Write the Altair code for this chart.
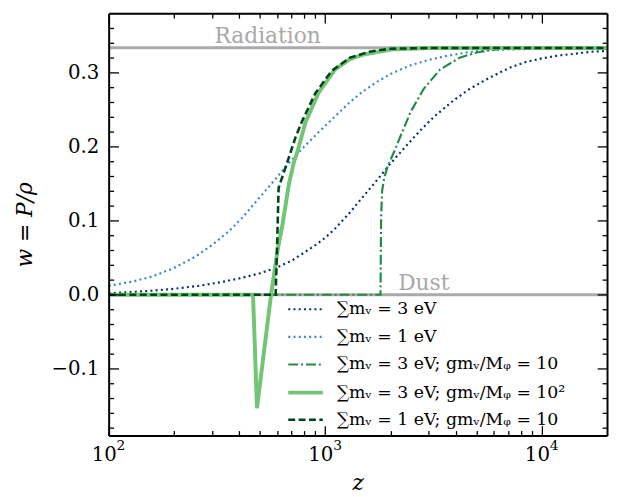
import altair as alt
import pandas as pd

FONT = "DejaVu Serif"

series_names = [
    "∑mᵥ = 3 eV",
    "∑mᵥ = 1 eV",
    "∑mᵥ = 3 eV; gmᵥ/Mᵩ = 10",
    "∑mᵥ = 3 eV; gmᵥ/Mᵩ = 10²",
    "∑mᵥ = 1 eV; gmᵥ/Mᵩ = 10",
]
colors = ["#08306b", "#3a87cb", "#238b45", "#74c476", "#00441b"]
dashes = [[2, 3.3], [2, 3.3], [10, 3, 2, 3], [1, 0], [7, 3.5]]
widths = [2.2, 2.2, 2.2, 4, 2.6]

# Sum m = 3 eV
z_a = [100, 150, 200, 260, 330, 400, 500, 600, 700, 800, 900, 1000, 1100, 1300, 1500,
       1750, 2000, 2400, 2750, 3200, 3900, 4600, 5500, 6500, 7200, 8400, 10000, 12000,
       14000, 17000, 20000]
w_a = [0.002, 0.005, 0.008, 0.012, 0.017, 0.022, 0.029, 0.037, 0.046, 0.057, 0.067, 0.077,
       0.088, 0.111, 0.133, 0.156, 0.177, 0.203, 0.222, 0.241, 0.262, 0.277, 0.290, 0.301,
       0.307, 0.314, 0.319, 0.323, 0.325, 0.328, 0.329]
# Sum m = 1 eV
z_b = [100, 130, 160, 200, 250, 300, 360, 420, 480, 550, 620, 700, 800, 900, 1000, 1150,
       1300, 1500, 1750, 2000, 2500, 3000, 3600, 4500, 5500, 7000, 10000, 14000, 20000]
w_b = [0.012, 0.018, 0.025, 0.036, 0.051, 0.067, 0.086, 0.106, 0.126, 0.146, 0.164, 0.182,
       0.200, 0.215, 0.228, 0.245, 0.260, 0.275, 0.288, 0.298, 0.310, 0.317, 0.322, 0.327,
       0.330, 0.331, 0.332, 0.333, 0.333]
# Sum m = 3 eV; g m/M = 10
z_c = [100, 1800, 1810, 1830, 1873, 1950, 2080, 2240, 2480, 2850, 3390, 4180, 5000, 5520,
       6500, 8000, 20000]
w_c = [0.0, 0.0, 0.10, 0.14, 0.158, 0.175, 0.193, 0.216, 0.247, 0.278, 0.304, 0.320, 0.327,
       0.329, 0.332, 0.333, 0.333]
# Sum m = 3 eV; g m/M = 100
z_d = [100, 464, 484, 562, 605, 636, 680, 718, 744, 811, 933, 1110, 1300, 1493, 2020, 3000,
       20000]
w_d = [0.0, 0.0, -0.153, 0.0, 0.063, 0.096, 0.150, 0.180, 0.193, 0.233, 0.273, 0.304, 0.318,
       0.324, 0.331, 0.333, 0.333]
# Sum m = 1 eV; g m/M = 10
z_e = [100, 590, 600, 609, 640, 670, 693, 730, 784, 900, 1070, 1300, 1600, 2000, 3000, 20000]
w_e = [0.0, 0.0, 0.07, 0.144, 0.163, 0.180, 0.193, 0.213, 0.235, 0.272, 0.302, 0.320, 0.328,
       0.332, 0.333, 0.333]

ref_levels = [0.0, 1 / 3]
ref_labels = ["Dust", "Radiation"]
ref_label_z = [2850, 542]
ref_label_w = [0.007, 0.340]

x_major = [100, 1000, 10000]
x_exponents = ["2", "3", "4"]
x_minor = [200, 300, 400, 500, 600, 700, 800, 900,
           2000, 3000, 4000, 5000, 6000, 7000, 8000, 9000]
y_major = [-0.1, 0.0, 0.1, 0.2, 0.3]
y_minor = [-0.18, -0.16, -0.14, -0.12, -0.08, -0.06, -0.04, -0.02,
           0.02, 0.04, 0.06, 0.08, 0.12, 0.14, 0.16, 0.18,
           0.22, 0.24, 0.26, 0.28, 0.32, 0.34, 0.36]
y_min, y_max = -0.19, 0.38

rows = []
for name, zs, ws in zip(series_names, [z_a, z_b, z_c, z_d, z_e], [w_a, w_b, w_c, w_d, w_e]):
    for z, w in zip(zs, ws):
        rows.append({"series": name, "z": z, "w": w})
df = pd.DataFrame(rows)

W, H = 505, 428
xscale = alt.Scale(type="log", domain=[100, 20000], nice=False)
yscale = alt.Scale(domain=[y_min, y_max], nice=False, zero=False)

color_scale = alt.Scale(type="ordinal", domain=series_names, range=colors)
dash_scale = alt.Scale(type="ordinal", domain=series_names, range=dashes)
width_scale = alt.Scale(type="ordinal", domain=series_names, range=widths)

legend = alt.Legend(
    title=None, orient="none", legendX=180, legendY=281,
    labelFont=FONT, labelFontSize=17.5, labelColor="black",
    symbolType="stroke", symbolSize=1225, labelOffset=12,
    rowPadding=-9, padding=0, labelLimit=400,
)

ref_rules = alt.Chart(pd.DataFrame({"w": ref_levels})).mark_rule(
    color="#aaaaaa", strokeWidth=3
).encode(y=alt.Y("w:Q", scale=yscale, axis=None))

ref_text = alt.Chart(
    pd.DataFrame({"label": ref_labels, "z": ref_label_z, "w": ref_label_w})
).mark_text(font=FONT, fontSize=22, color="#a8a8a8", baseline="alphabetic", align="center").encode(
    x=alt.X("z:Q", scale=xscale, axis=None),
    y=alt.Y("w:Q", scale=yscale, axis=None),
    text="label:N",
)

line_layers = []
for name in series_names:
    line_layers.append(
        alt.Chart(df[df.series == name]).mark_line(clip=True).encode(
            x=alt.X("z:Q", scale=xscale, axis=None),
            y=alt.Y("w:Q", scale=yscale, axis=None),
            color=alt.Color("series:N", scale=color_scale, legend=legend, sort=series_names),
            strokeDash=alt.StrokeDash("series:N", scale=dash_scale, legend=legend, sort=series_names),
            strokeWidth=alt.StrokeWidth("series:N", scale=width_scale, legend=legend, sort=series_names),
            order="z:Q",
        )
    )

# exponent of the x tick labels (10^n)
exp_text = alt.Chart(
    pd.DataFrame({"z": x_major, "w": [y_min] * 3, "e": x_exponents})
).mark_text(font=FONT, fontSize=14, color="black", baseline="alphabetic", align="left",
            dx=8, dy=15).encode(
    x=alt.X("z:Q", scale=xscale, axis=None),
    y=alt.Y("w:Q", scale=yscale, axis=None),
    text="e:N",
)

tick_common = dict(labels=False, title=None, grid=False, tickColor="black", tickWidth=1.3, zindex=1)

base = alt.Chart(df).mark_point(opacity=0)

axis_labels = base.encode(
    x=alt.X("z:Q", scale=xscale, axis=alt.Axis(
        orient="bottom", values=x_major,
        labelExpr="'10'",
        ticks=False, tickSize=0, tickOffset=-5, domain=True, domainColor="black",
        domainWidth=2, grid=False,
        labelFont=FONT, labelFontSize=20, labelColor="black", labelPadding=25,
        labelBaseline="alphabetic", labelOverlap=False, labelFlush=False,
        title="z", titleFont=FONT, titleFontStyle="italic", titleFontWeight="normal",
        titleFontSize=22, titleColor="black", titleX=252.5, titleY=55,
        titleBaseline="alphabetic", zindex=1)),
    y=alt.Y("w:Q", scale=yscale, axis=alt.Axis(
        orient="left", values=y_major, format=".1f",
        ticks=False, tickSize=0, domain=True, domainColor="black", domainWidth=2, grid=False,
        labelFont=FONT, labelFontSize=20, labelColor="black", labelPadding=10,
        labelOverlap=False, labelFlush=False,
        title="w = P/ρ", titleFont=FONT, titleFontStyle="italic", titleFontWeight="normal",
        titleFontSize=22, titleColor="black", titleX=-85, titleY=214, titleAngle=-90,
        titleAlign="center", titleBaseline="middle", zindex=1)),
)

axis_major_a = base.encode(
    x=alt.X("z:Q", scale=xscale, axis=alt.Axis(orient="top", offset=-H, values=x_major,
                                                 tickSize=10, domain=False, **tick_common)),
    y=alt.Y("w:Q", scale=yscale, axis=alt.Axis(orient="right", offset=-W, values=y_major,
                                                 tickSize=10, domain=False, **tick_common)),
)
axis_major_b = base.encode(
    x=alt.X("z:Q", scale=xscale, axis=alt.Axis(orient="bottom", offset=-H, values=x_major,
                                                 tickSize=10, domain=True, domainColor="black",
                                                 domainWidth=2, **tick_common)),
    y=alt.Y("w:Q", scale=yscale, axis=alt.Axis(orient="left", offset=-W, values=y_major,
                                                 tickSize=10, domain=True, domainColor="black",
                                                 domainWidth=2, **tick_common)),
)
axis_minor_a = base.encode(
    x=alt.X("z:Q", scale=xscale, axis=alt.Axis(orient="top", offset=-H, values=x_minor,
                                                 tickSize=5, domain=False, **tick_common)),
    y=alt.Y("w:Q", scale=yscale, axis=alt.Axis(orient="right", offset=-W, values=y_minor,
                                                 tickSize=5, domain=False, **tick_common)),
)
axis_minor_b = base.encode(
    x=alt.X("z:Q", scale=xscale, axis=alt.Axis(orient="bottom", offset=-H, values=x_minor,
                                                 tickSize=5, domain=False, **tick_common)),
    y=alt.Y("w:Q", scale=yscale, axis=alt.Axis(orient="left", offset=-W, values=y_minor,
                                                 tickSize=5, domain=False, **tick_common)),
)

chart = alt.layer(
    ref_rules, ref_text, *line_layers, exp_text,
    axis_labels, axis_major_a, axis_major_b, axis_minor_a, axis_minor_b,
).resolve_axis(x="independent", y="independent").properties(
    width=W, height=H,
    padding={"left": 102, "top": 2, "right": 2, "bottom": 58},
    autosize=alt.AutoSizeParams(type="none"),
).configure_view(stroke="transparent").configure(background="white")

chart.save("out.html", embed_options={"renderer": "svg", "actions": False})
